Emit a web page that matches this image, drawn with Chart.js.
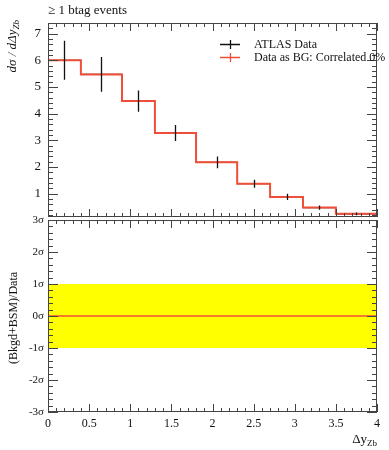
<!DOCTYPE html>
<html>
<head>
<meta charset="utf-8">
<script src="https://cdn.jsdelivr.net/npm/chart.js@4"></script>
<style>
  body { margin: 0; background: #fff; }
  #wrap { position: relative; width: 389px; height: 450px; }
  #top-box { position: absolute; left: 0; top: 0; width: 389px; height: 222px; }
  #bottom-box { position: absolute; left: 0; top: 205px; width: 389px; height: 245px; }
</style>
</head>
<body>
<div id="wrap">
  <div id="top-box"><canvas id="top-chart"></canvas></div>
  <div id="bottom-box"><canvas id="bottom-chart"></canvas></div>
</div>
<script>
// bins in delta y(Zb)
const binEdges = [0, 0.4, 0.9, 1.3, 1.8, 2.3, 2.7, 3.1, 3.5, 4.0];
const binCenters = [0.2, 0.65, 1.1, 1.55, 2.05, 2.5, 2.9, 3.3, 3.75];
// ATLAS data and its errors
const dataValues = [6.0, 5.47, 4.47, 3.27, 2.17, 1.37, 0.875, 0.475, 0.24];
const dataErrors = [0.73, 0.65, 0.40, 0.30, 0.22, 0.15, 0.12, 0.08, 0.05];
// data used as background
const bgValues = [6.0, 5.47, 4.47, 3.27, 2.17, 1.37, 0.875, 0.475, 0.24];
// lower panel, significance
const ratioX = [0, 4];
const ratioLine = [0, 0];
const bandUp = [1, 1];
const bandDown = [-1, -1];
// tick labels
const topYTicks = [1, 2, 3, 4, 5, 6, 7];
const bottomYTicks = [-3, -2, -1, 0, 1, 2, 3];
const xTicks = [0, 0.5, 1, 1.5, 2, 2.5, 3, 3.5, 4];

const FONT = 'Liberation Serif';
const RED = '#ef4f38';
const labels = ['ATLAS Data', 'Data as BG: Correlated 0%'];

// frame and inward ticks on all four sides
function framePlugin(yMinorStep) {
  return {
    id: 'frame',
    afterDraw(chart) {
      const { ctx, chartArea: a, scales: { x, y } } = chart;
      ctx.save();
      ctx.strokeStyle = '#444';
      ctx.lineWidth = 1;
      ctx.strokeRect(a.left + 0.5, a.top + 0.5, a.width - 1, a.height - 1);
      ctx.beginPath();
      for (let i = 0; i <= 40; i++) {
        const px = Math.round(x.getPixelForValue(i / 10)) + 0.5;
        const len = i % 5 === 0 ? 8 : 4;
        ctx.moveTo(px, a.bottom); ctx.lineTo(px, a.bottom - len);
        ctx.moveTo(px, a.top); ctx.lineTo(px, a.top + len);
      }
      const i0 = Math.ceil(y.min / yMinorStep - 1e-6);
      const i1 = Math.floor(y.max / yMinorStep + 1e-6);
      for (let i = i0; i <= i1; i++) {
        const v = i * yMinorStep;
        const py = Math.round(y.getPixelForValue(v)) + 0.5;
        const major = Math.abs(v - Math.round(v)) < 1e-6;
        const len = major ? 10 : 5;
        ctx.moveTo(a.left, py); ctx.lineTo(a.left + len, py);
        ctx.moveTo(a.right, py); ctx.lineTo(a.right - len, py);
      }
      ctx.stroke();
      ctx.restore();
    }
  };
}

// draws text with a subscript, rotated or not
function drawSub(ctx, parts, x, y, rot, align) {
  ctx.save();
  ctx.translate(x, y);
  if (rot) ctx.rotate(-Math.PI / 2);
  let total = 0;
  parts.forEach(p => { ctx.font = p.font; total += ctx.measureText(p.t).width; });
  let cx = align === 'right' ? -total : (align === 'center' ? -total / 2 : 0);
  ctx.textBaseline = 'alphabetic';
  ctx.textAlign = 'left';
  parts.forEach(p => {
    ctx.font = p.font;
    ctx.fillText(p.t, cx, p.dy || 0);
    cx += ctx.measureText(p.t).width;
  });
  ctx.restore();
}

const errorBars = {
  id: 'errorBars',
  beforeDatasetsDraw(chart) {
    const { ctx, scales: { x, y } } = chart;
    ctx.save();
    ctx.strokeStyle = '#111';
    ctx.lineWidth = 1.3;
    ctx.beginPath();
    dataValues.forEach((v, i) => {
      const py = y.getPixelForValue(v);
      ctx.moveTo(x.getPixelForValue(binEdges[i]), py);
      ctx.lineTo(x.getPixelForValue(binEdges[i + 1]), py);
    });
    ctx.stroke();
    ctx.restore();
  },
  afterDatasetsDraw(chart) {
    const { ctx, scales: { x, y } } = chart;
    ctx.save();
    ctx.strokeStyle = '#111';
    ctx.lineWidth = 1.3;
    ctx.beginPath();
    dataValues.forEach((v, i) => {
      const px = Math.round(x.getPixelForValue(binCenters[i])) + 0.5;
      ctx.moveTo(px, y.getPixelForValue(v - dataErrors[i]));
      ctx.lineTo(px, y.getPixelForValue(v + dataErrors[i]));
    });
    ctx.stroke();
    ctx.restore();
  }
};

const topText = {
  id: 'topText',
  afterDraw(chart) {
    const ctx = chart.ctx;
    ctx.save();
    ctx.fillStyle = '#111';
    ctx.font = `13px "${FONT}"`;
    ctx.textBaseline = 'alphabetic';
    ctx.fillText('\u2265 1 btag events', 48, 14);
    drawSub(ctx, [
      { t: 'd\u03c3 / d\u0394y', font: `italic 13px "${FONT}"` },
      { t: 'Zb', font: `italic 9px "${FONT}"`, dy: 3 }
    ], 16, 20, true, 'right');
    // legend
    const rows = [{ c: '#111', y: 44 }, { c: RED, y: 57 }];
    rows.forEach((r, i) => {
      ctx.strokeStyle = r.c;
      ctx.lineWidth = 1.3;
      ctx.beginPath();
      ctx.moveTo(220, r.y + 0.5); ctx.lineTo(240, r.y + 0.5);
      ctx.moveTo(230.5, r.y - 4); ctx.lineTo(230.5, r.y + 5);
      ctx.stroke();
      ctx.fillStyle = '#111';
      ctx.font = `12px "${FONT}"`;
      ctx.textBaseline = 'middle';
      ctx.fillText(labels[i], 254, r.y + 1);
    });
    ctx.restore();
  }
};

const bottomText = {
  id: 'bottomText',
  afterDraw(chart) {
    const ctx = chart.ctx;
    ctx.save();
    ctx.fillStyle = '#111';
    drawSub(ctx, [{ t: '(Bkgd+BSM)/Data', font: `12px "${FONT}"` }], 17, 318 - 205, true, 'center');
    drawSub(ctx, [
      { t: '\u0394y', font: `13px "${FONT}"` },
      { t: 'Zb', font: `9px "${FONT}"`, dy: 3 }
    ], 377, 443 - 205, false, 'right');
    ctx.restore();
  }
};

function fixY(width) {
  return s => { s.width = width; s.paddingTop = 0; s.paddingBottom = 0; };
}

const topChart = new Chart(document.getElementById('top-chart'), {
  data: {
    datasets: [{
      type: 'line',
      label: labels[1],
      data: binEdges.map((x, i) => ({ x: x, y: bgValues[Math.min(i, bgValues.length - 1)] })),
      stepped: 'before',
      borderColor: RED,
      borderWidth: 2,
      pointRadius: 0,
      fill: false
    }, {
      type: 'scatter',
      label: labels[0],
      data: binCenters.map((x, i) => ({ x: x, y: dataValues[i] })),
      pointRadius: 0
    }]
  },
  options: {
    responsive: true,
    maintainAspectRatio: false,
    animation: false,
    layout: { padding: { top: 23, right: 12, bottom: 5, left: 0 } },
    plugins: { legend: { display: false }, tooltip: { enabled: false } },
    scales: {
      x: { type: 'linear', min: 0, max: 4, display: false },
      y: {
        type: 'linear', min: 0.12, max: 7.4,
        afterBuildTicks: s => { s.ticks = topYTicks.map(v => ({ value: v })); },
        afterFit: fixY(48),
        grid: { display: false, drawTicks: false },
        border: { display: false },
        ticks: { padding: 7, color: '#111', font: { family: FONT, size: 13 } }
      }
    }
  },
  plugins: [errorBars, framePlugin(0.2), topText]
});

const bottomChart = new Chart(document.getElementById('bottom-chart'), {
  data: {
    datasets: [{
      type: 'line',
      data: ratioX.map((x, i) => ({ x: x, y: ratioLine[i] })),
      borderColor: RED,
      borderWidth: 1.5,
      pointRadius: 0,
      fill: false
    }, {
      type: 'line',
      data: ratioX.map((x, i) => ({ x: x, y: bandUp[i] })),
      borderWidth: 0,
      pointRadius: 0,
      backgroundColor: '#ffff00',
      fill: '+1'
    }, {
      type: 'line',
      data: ratioX.map((x, i) => ({ x: x, y: bandDown[i] })),
      borderWidth: 0,
      pointRadius: 0,
      fill: false
    }]
  },
  options: {
    responsive: true,
    maintainAspectRatio: false,
    animation: false,
    layout: { padding: { top: 15, right: 12, bottom: 0, left: 0 } },
    plugins: { legend: { display: false }, tooltip: { enabled: false } },
    scales: {
      x: {
        type: 'linear', min: 0, max: 4,
        afterBuildTicks: s => { s.ticks = xTicks.map(v => ({ value: v })); },
        afterFit: s => { s.height = 38; s.paddingLeft = 0; s.paddingRight = 0; },
        grid: { display: false, drawTicks: false },
        border: { display: false },
        ticks: {
          padding: 5, color: '#111', maxRotation: 0, font: { family: FONT, size: 12 },
          callback: v => String(v)
        }
      },
      y: {
        type: 'linear', min: -3, max: 3,
        afterBuildTicks: s => { s.ticks = bottomYTicks.map(v => ({ value: v })); },
        afterFit: fixY(48),
        grid: { display: false, drawTicks: false },
        border: { display: false },
        ticks: {
          padding: 4, color: '#111', font: { family: FONT, size: 11 },
          callback: v => v + '\u03c3'
        }
      }
    }
  },
  plugins: [framePlugin(0.2), bottomText]
});
</script>
</body>
</html>
